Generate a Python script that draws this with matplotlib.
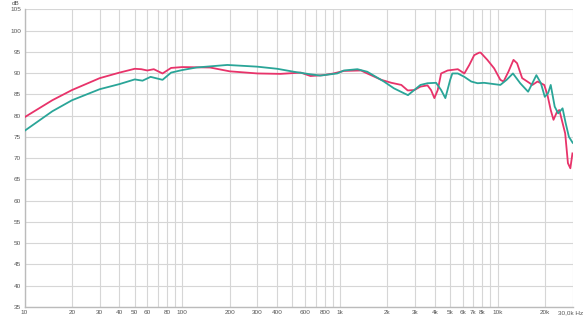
import matplotlib
matplotlib.use("Agg")
import matplotlib.pyplot as plt

plt.rcParams['font.family'] = ['Liberation Sans', 'DejaVu Sans']

# frequency response (Hz, dB)
red_freq = [10, 15, 20, 30, 40, 50, 55, 60, 66, 75, 85, 100, 150, 200, 300, 420, 565, 650,
            785, 910, 1060, 1360, 1490, 1830, 2120, 2450, 2690, 2960, 3240, 3590, 3780, 3970,
            4170, 4380, 4820, 5590, 6150, 6610, 7100, 7640, 7800, 8600, 9500, 10400, 10900,
            11700, 12600, 13280, 14300, 15420, 16600, 17900, 19740, 20700, 21700, 22600,
            23800, 24600, 25500, 26800, 27900, 28900, 29800]
red_db = [79.6, 83.6, 86.0, 88.8, 90.1, 91.0, 90.9, 90.6, 90.9, 89.9, 91.2, 91.4, 91.3, 90.4,
          89.9, 89.8, 90.1, 89.3, 89.5, 89.9, 90.5, 90.6, 89.9, 88.4, 87.7, 87.2, 85.9, 86.0,
          86.8, 87.1, 86.0, 84.1, 86.0, 89.9, 90.6, 90.9, 89.9, 91.9, 94.2, 94.8, 94.8, 93.1,
          91.1, 88.4, 88.0, 90.3, 93.1, 92.3, 88.8, 88.0, 87.2, 88.0, 87.2, 84.8, 81.3, 79.0,
          80.9, 81.3, 79.0, 75.8, 68.8, 67.6, 71.1]

teal_freq = [10, 15, 20, 30, 40, 50, 56, 63, 75, 85, 100, 123, 193, 298, 400, 510, 650, 750,
             960, 1060, 1290, 1490, 1900, 2200, 2560, 2700, 2960, 3240, 3590, 4070, 4380,
             4660, 5000, 5160, 5590, 6150, 6800, 7460, 8200, 10400, 11400, 12500, 13900,
             15600, 16600, 17600, 18800, 19900, 20900, 21700, 23000, 24200, 25800, 27000,
             28300, 29900]
teal_db = [76.4, 81.0, 83.6, 86.2, 87.4, 88.5, 88.2, 89.1, 88.4, 90.1, 90.7, 91.3, 91.9, 91.5,
           91.0, 90.3, 89.7, 89.4, 89.9, 90.6, 90.9, 90.3, 88.0, 86.4, 85.2, 84.8, 86.0, 87.2,
           87.6, 87.7, 86.0, 84.1, 88.4, 89.9, 89.9, 89.1, 88.0, 87.6, 87.7, 87.2, 88.4, 89.9,
           87.6, 85.6, 87.6, 89.5, 87.6, 84.4, 85.3, 87.2, 82.1, 80.5, 81.7, 78.2, 75.0, 73.6]

x_ticks = [10, 20, 30, 40, 50, 60, 80, 100, 200, 300, 400, 600, 800, 1000, 2000, 3000, 4000,
           5000, 6000, 7000, 8000, 10000, 20000, 30000]
x_labels = ["10", "20", "30", "40", "50", "60", "80", "100", "200", "300", "400", "600", "800",
            "1k", "2k", "3k", "4k", "5k", "6k", "7k", "8k", "10k", "20k", ""]
y_ticks = list(range(35, 106, 5))

fig = plt.figure(figsize=(5.84, 3.19), dpi=100)
ax = fig.add_axes([0.042, 0.038, 0.939, 0.933])

ax.plot(red_freq, red_db, color="#e8336a", lw=1.3, zorder=3)
ax.plot(teal_freq, teal_db, color="#2aa598", lw=1.3, zorder=3)

ax.set_xscale("log")
ax.set_xlim(10, 30000)
ax.set_ylim(35, 105)

# gridlines at every 1..9 x decade
grid_f = [m * 10 ** d for d in range(1, 5) for m in range(1, 10) if m * 10 ** d <= 30000]
for f in grid_f:
    ax.axvline(f, color="#d6d6d6", lw=0.8, zorder=1)
for y in y_ticks:
    ax.axhline(y, color="#d6d6d6", lw=0.8, zorder=1)

ax.minorticks_off()
ax.set_xticks(x_ticks)
ax.set_xticklabels(x_labels)
ax.set_yticks(y_ticks)
ax.tick_params(axis="both", length=0, labelsize=4.6, labelcolor="#555555", pad=2.5)

# last label sits right of the axis end
ax.text(24100, -0.012, "30,0k Hz", transform=ax.get_xaxis_transform(),
        fontsize=4.6, color="#555555", ha="left", va="top")

for side in ["top", "right"]:
    ax.spines[side].set_visible(False)
for side in ["left", "bottom"]:
    ax.spines[side].set_color("#bbbbbb")
    ax.spines[side].set_linewidth(1.0)

fig.text(0.020, 0.998, "dB", fontsize=4.6, color="#555555", ha="left", va="top")

fig.savefig("out.png", dpi=100, facecolor="white")
